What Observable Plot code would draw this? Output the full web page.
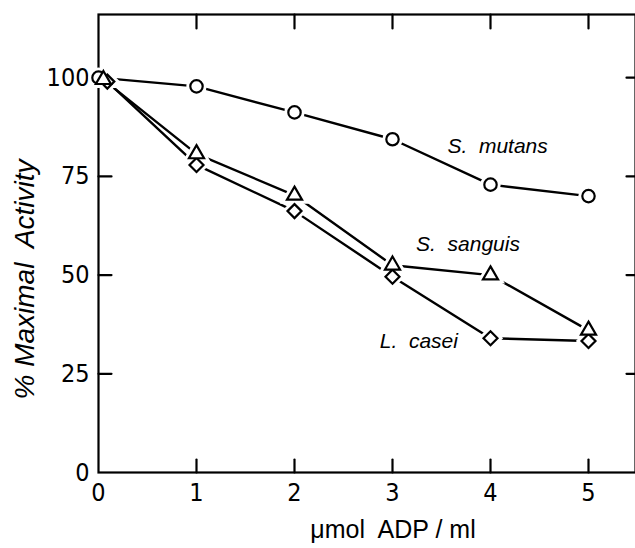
<!DOCTYPE html>
<html>
<head>
<meta charset="utf-8">
<script src="https://cdn.jsdelivr.net/npm/d3@7"></script>
<script src="https://cdn.jsdelivr.net/npm/@observablehq/plot@0.6"></script>
<style>
  html, body { margin: 0; padding: 0; background: white; overflow: hidden; }
  #chart { width: 635px; height: 548px; overflow: hidden; }
</style>
</head>
<body>
<div id="chart"></div>
<script>
// ---- data ----
const xMutans  = [0, 1, 2, 3, 4, 5];
const xSanguis = [0.05, 1, 2, 3, 4, 5];
const xCasei   = [0.09, 1, 2, 3, 4, 5];
const mutans  = [100, 97.8, 91.2, 84.4, 72.9, 70];
const sanguis = [99.5, 80.7, 70.2, 52.5, 50, 36];
const casei   = [99, 77.9, 66.2, 49.6, 34, 33.3];

const xTicks = [0, 1, 2, 3, 4, 5];
const yTicks = [0, 25, 50, 75, 100];
const xLabel = "\u03bcmol  ADP / ml";
const yLabel = "% Maximal  Activity";

const seriesNames = ["S.  mutans", "S.  sanguis", "L.  casei"];
const seriesSymbols = ["circle", "triangle", "diamond2"];
const labelX = [3.56, 3.24, 2.87];
const labelY = [81, 56, 31.5];

const points = [
  ...xMutans.map((x, i) => ({x, y: mutans[i], s: 0})),
  ...xSanguis.map((x, i) => ({x, y: sanguis[i], s: 1})),
  ...xCasei.map((x, i) => ({x, y: casei[i], s: 2}))
];
const labels = seriesNames.map((t, i) => ({t, x: labelX[i], y: labelY[i]}));

const tickFont = "'Liberation Sans Narrow', 'DejaVu Sans Condensed', 'Roboto Condensed', sans-serif";
const textFont = "'Liberation Sans', Arial, Helvetica, sans-serif";
const symR = [6.2, 5.6, 6.3];

const tickShape = {draw(context, l) { context.moveTo(0, 0); context.lineTo(0, -l); }};

const plot = Plot.plot({
  width: 635,
  height: 548,
  marginTop: 14,
  marginBottom: 76,
  marginLeft: 98,
  marginRight: 0,
  x: {domain: [0, 5.5], range: [98, 637]},
  y: {domain: [0, 116]},
  r: {type: "identity"},
  style: {background: "white", color: "black", overflow: "hidden"},
  marks: [
    Plot.frame({stroke: "black", strokeWidth: 2.2}),
    // inward tick marks
    Plot.vector(xTicks.slice(1), {x: d => d, frameAnchor: "bottom", rotate: 0, length: 13, anchor: "start",
      shape: tickShape, stroke: "black", strokeWidth: 2.2}),
    Plot.vector(xTicks.slice(1), {x: d => d, frameAnchor: "top", rotate: 180, length: 14, anchor: "start",
      shape: tickShape, stroke: "black", strokeWidth: 2.2}),
    Plot.vector(yTicks.slice(1), {y: d => d, frameAnchor: "left", rotate: 90, length: 13, anchor: "start",
      shape: tickShape, stroke: "black", strokeWidth: 2.2}),
    Plot.vector(yTicks.slice(1), {y: d => d, frameAnchor: "right", rotate: -90, length: 9, anchor: "start",
      shape: tickShape, stroke: "black", strokeWidth: 2.2}),
    // tick labels
    Plot.axisX(xTicks, {anchor: "bottom", tickSize: 0, tickPadding: 11, label: null,
      fontSize: 25, fontFamily: tickFont, fill: "black"}),
    Plot.axisY(yTicks, {anchor: "left", tickSize: 0, tickPadding: 9, label: null,
      fontSize: 25, fontFamily: tickFont, fill: "black"}),
    // series
    Plot.line(points, {x: "x", y: "y", z: "s", stroke: "black", strokeWidth: 2.4}),
    Plot.dot(points, {x: "x", y: "y", symbol: d => seriesSymbols[d.s], r: d => symR[d.s],
      fill: "white", stroke: "white", strokeWidth: 8}),
    Plot.dot(points, {x: "x", y: "y", symbol: d => seriesSymbols[d.s], r: d => symR[d.s],
      fill: "white", stroke: "black", strokeWidth: 2.2}),
    Plot.text(labels, {x: "x", y: "y", text: "t", textAnchor: "start", lineAnchor: "bottom",
      fontSize: 21, fontStyle: "italic", fontFamily: textFont, fill: "black"}),
    Plot.text([yLabel], {text: d => d, frameAnchor: "left", textAnchor: "middle", lineAnchor: "middle",
      dx: -73, dy: 36, rotate: -90,
      fontSize: 28, fontStyle: "italic", fontFamily: textFont, fill: "black"}),
    Plot.text([xLabel], {text: d => d, frameAnchor: "bottom", textAnchor: "middle", lineAnchor: "middle",
      dx: 26, dy: 57,
      fontSize: 25, fontFamily: textFont, fill: "black"})
  ]
});
document.getElementById("chart").appendChild(plot);
</script>
</body>
</html>
